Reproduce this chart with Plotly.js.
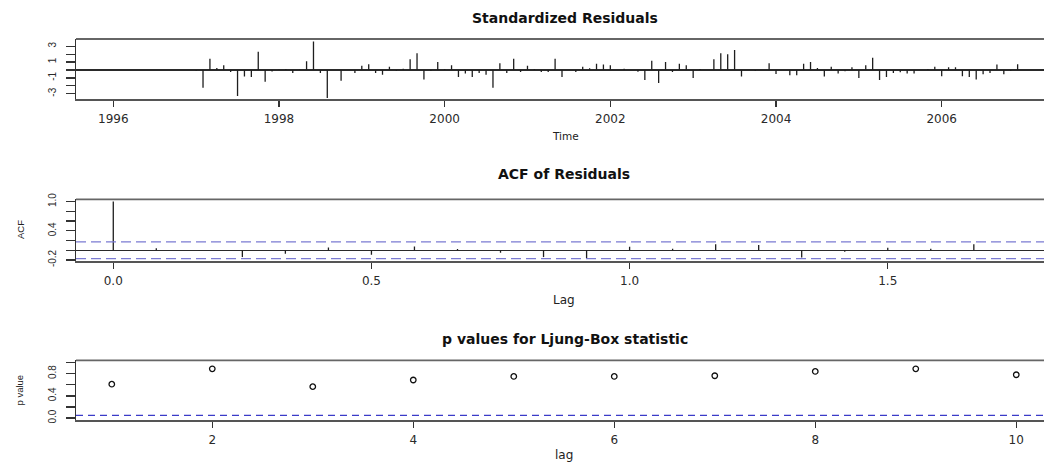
<!DOCTYPE html>
<html>
<head>
<meta charset="utf-8">
<script src="https://cdn.plot.ly/plotly-3.0.1.min.js"></script>
<style>html,body{margin:0;padding:0;background:#fff;}#chart{width:1044px;height:463px;}</style>
</head>
<body>
<div id="chart"></div>
<script>
// ---- data ----
const tsStart = 1996;
const tsFreq = 12;
const residuals = [
  0, 0, 0, 0, 0, 0, 0, 0, 0, 0, 0, 0,
  -0.10, -2.24, 1.43, 0.25, 0.59, -0.25, -3.29, -0.84, -0.89, 2.32, -1.48, -0.20,
  0.03, 0.13, -0.38, 0.02, 1.10, 3.59, -0.38, -3.55, 0.00, -1.35, 0.00, -0.38,
  0.55, 0.72, -0.38, -0.59, 0.42, -0.13, 0.17, 1.35, 2.11, -1.22, -0.13, 1.01,
  0.13, 0.59, -0.89, -0.46, -0.89, -0.38, -0.59, -2.24, 0.84, -0.38, 1.43, -0.25,
  0.55, 0.13, -0.25, -0.25, 1.43, -0.89, 0.00, -0.25, 0.42, 0.21, 0.80, 0.68,
  0.59, 0.00, 0.17, 0.00, -0.21, -1.27, 1.18, -1.65, 1.01, -0.25, 0.80, 0.59,
  -1.01, 0.13, 0.00, 1.35, 2.11, 1.98, 2.53, -0.84, 0.00, -0.13, 0.00, 0.84,
  -0.50, 0.00, -0.68, -0.68, 0.80, 1.01, 0.25, -0.84, 0.42, -0.46, -0.17, 0.34,
  -1.01, 0.59, 1.56, -1.27, -0.89, -0.38, -0.30, -0.46, -0.46, 0.00, 0.13, 0.42,
  -0.80, 0.34, 0.34, -0.80, -0.89, -1.22, -0.55, -0.38, 0.68, -0.55, -0.13, 0.72
];
const residTickVals = [1996, 1998, 2000, 2002, 2004, 2006];
const residTickText = ['1996', '1998', '2000', '2002', '2004', '2006'];
const residYTickVals = [-3, -2, -1, 0, 1, 2, 3];
const residYTickText = ['-3', '', '-1', '', '1', '', '3'];

const acfLags = [0, 0.0833, 0.1667, 0.25, 0.3333, 0.4167, 0.5, 0.5833, 0.6667, 0.75, 0.8333,
  0.9167, 1.0, 1.0833, 1.1667, 1.25, 1.3333, 1.4167, 1.5, 1.5833, 1.6667, 1.75];
const acfValues = [1.0, 0.042, 0.005, -0.14, -0.07, 0.056, -0.09, 0.076, 0.028, -0.05, -0.14,
  -0.17, 0.07, 0.03, 0.125, 0.11, -0.15, -0.03, 0.05, 0.03, 0.125, 0.0];
const acfBound = 0.171;
const acfXTickVals = [0, 0.5, 1.0, 1.5];
const acfXTickText = ['0.0', '0.5', '1.0', '1.5'];
const acfYTickVals = [-0.2, 0, 0.2, 0.4, 0.6, 0.8, 1.0];
const acfYTickText = ['-0.2', '', '', '0.4', '', '', '1.0'];

const lbLags = [1, 2, 3, 4, 5, 6, 7, 8, 9, 10];
const lbPValues = [0.61, 0.887, 0.566, 0.685, 0.75, 0.75, 0.762, 0.839, 0.887, 0.78];
const lbLevel = 0.05;
const lbXTickVals = [2, 4, 6, 8, 10];
const lbXTickText = ['2', '4', '6', '8', '10'];
const lbYTickVals = [0, 0.2, 0.4, 0.6, 0.8, 1.0];
const lbYTickText = ['0.0', '', '0.4', '', '0.8', ''];

// ---- build ----
function spikes(xs, ys) {
  const X = [], Y = [];
  xs.forEach((x, i) => { X.push(x, x, null); Y.push(0, ys[i], null); });
  return {X, Y};
}
const residTimes = residuals.map((v, i) => tsStart + i / tsFreq);
const rs = spikes(residTimes, residuals);
const ac = spikes(acfLags, acfValues);

const SPIKE = '#1e1e1e';
const traces = [
  {type: 'scatter', mode: 'lines', x: rs.X, y: rs.Y, xaxis: 'x', yaxis: 'y',
   line: {color: SPIKE, width: 1.3}, hoverinfo: 'skip', connectgaps: false},
  {type: 'scatter', mode: 'lines', x: ac.X, y: ac.Y, xaxis: 'x2', yaxis: 'y2',
   line: {color: SPIKE, width: 1.3}, hoverinfo: 'skip', connectgaps: false},
  {type: 'scatter', mode: 'markers', x: lbLags, y: lbPValues, xaxis: 'x3', yaxis: 'y3',
   marker: {symbol: 'circle-open', size: 5.5, color: '#111', line: {width: 1.3, color: '#111'}},
   hoverinfo: 'skip'}
];

const tickFont = {family: 'DejaVu Sans', size: 12, color: '#2a2a2a'};
const yTickFont = {family: 'Liberation Sans', size: 10, color: '#2a2a2a'};
function xAx(range, tv, tt, anchor) {
  return {range: range, tickvals: tv, ticktext: tt, ticks: 'outside', ticklen: 6, tickwidth: 1.3,
    tickcolor: '#333', showline: true, linecolor: '#555', linewidth: 1.6, showgrid: false,
    zeroline: false, tickfont: tickFont, anchor: anchor, fixedrange: true, ticklabelstandoff: 2};
}
function yAx(range, tv, tt, anchor, domain, zl) {
  return {range: range, tickvals: tv, ticktext: tt, ticks: 'outside', ticklen: 9, tickwidth: 1.3,
    tickcolor: '#333', showline: true, linecolor: '#333', linewidth: 1.3, showgrid: false,
    zeroline: zl, zerolinecolor: '#2a2a2a', zerolinewidth: 1.2, tickfont: yTickFont, tickangle: -90,
    anchor: anchor, domain: domain, fixedrange: true, ticklabelstandoff: 6};
}

const W = 1044, H = 463, ML = 76;
const px = v => (v - ML) / (W - ML);
const py = v => 1 - v / H;

const titleFont = {family: 'DejaVu Sans', size: 14, color: '#111', weight: 'bold'};
const labFont = {family: 'DejaVu Sans', size: 12, color: '#222'};
const timeFont = {family: 'DejaVu Sans', size: 10.5, color: '#222'};
const yLabFont = {family: 'Liberation Sans', size: 9.5, color: '#222'};
function ann(text, x, y, font, angle) {
  return {text: text, xref: 'paper', yref: 'paper', x: px(x), y: py(y), xanchor: 'center',
    yanchor: 'middle', showarrow: false, font: font, textangle: angle || 0};
}

const boxTop = (xr, yr) => ({type: 'line', xref: xr + ' domain', yref: yr + ' domain',
  x0: 0, x1: 1, y0: 1, y1: 1, line: {color: '#666', width: 1.8}});
const dashLine = (yr, xr, v, color, dash) => ({type: 'line', xref: xr + ' domain', yref: yr,
  x0: 0, x1: 1, y0: v, y1: v, line: {color: color, width: 1.3, dash: dash}});

const layout = {
  width: W, height: H, margin: {l: ML, r: 0, t: 0, b: 0},
  paper_bgcolor: '#fff', plot_bgcolor: '#fff', showlegend: false,
  xaxis: xAx([1995.55, 2007.235], residTickVals, residTickText, 'y'),
  yaxis: yAx([-3.71, 3.92], residYTickVals, residYTickText, 'x', [py(99.3), py(39)], true),
  xaxis2: xAx([-0.0722, 1.8026], acfXTickVals, acfXTickText, 'y2'),
  yaxis2: yAx([-0.221, 1.047], acfYTickVals, acfYTickText, 'x2', [py(261), py(199.3)], true),
  xaxis3: xAx([0.644, 10.276], lbXTickVals, lbXTickText, 'y3'),
  yaxis3: yAx([-0.04, 1.04], lbYTickVals, lbYTickText, 'x3', [py(420.3), py(360.3)], false),
  shapes: [
    boxTop('x', 'y'), boxTop('x2', 'y2'), boxTop('x3', 'y3'),
    dashLine('y2', 'x2', acfBound, '#7b7bd2', '10px,5px'),
    dashLine('y2', 'x2', -acfBound, '#7b7bd2', '10px,5px'),
    dashLine('y3', 'x3', lbLevel, '#3b3bc8', '7px,5px')
  ],
  annotations: [
    ann('Standardized Residuals', 565, 18.5, titleFont),
    ann('Time', 565, 136, timeFont),
    ann('ACF of Residuals', 564, 174, titleFont),
    ann('Lag', 564, 300, labFont),
    ann('p values for Ljung-Box statistic', 565, 339, titleFont),
    ann('lag', 564, 454.5, labFont),
    ann('ACF', 20, 230, yLabFont, -90),
    ann('p value', 19, 390.5, yLabFont, -90)
  ]
};

Plotly.newPlot('chart', traces, layout, {staticPlot: true, displayModeBar: false});
</script>
</body>
</html>
